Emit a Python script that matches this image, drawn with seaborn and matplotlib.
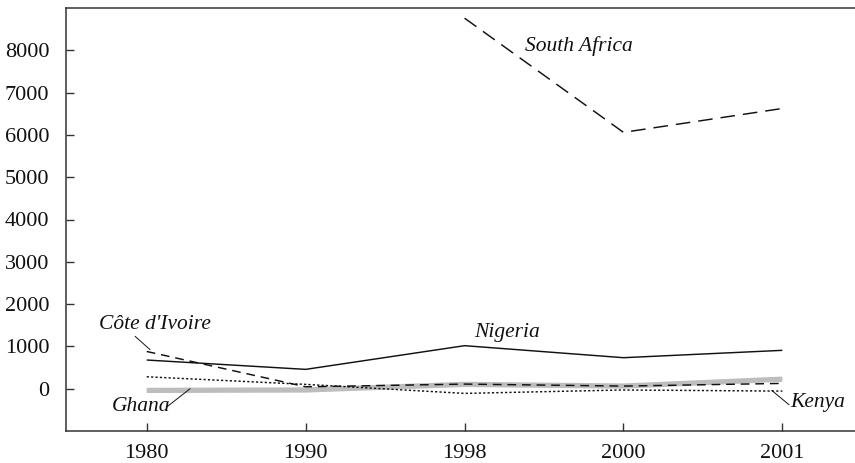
import matplotlib

matplotlib.use("Agg")

import matplotlib.pyplot as plt
import pandas as pd
import seaborn as sns

YEARS = ["1980", "1990", "1998", "2000", "2001"]
SOUTH_AFRICA = [None, None, 8760, 6060, 6625]
NIGERIA = [678, 457, 1017, 733, 907]
COTE_DIVOIRE = [880, 45, 109, 62, 125]
KENYA = [282, 102, -111, -30, -57]
GHANA = [-40, -30, 102, 62, 225]

SERIES = {
    "Ghana": GHANA,
    "South Africa": SOUTH_AFRICA,
    "Nigeria": NIGERIA,
    "Côte d'Ivoire": COTE_DIVOIRE,
    "Kenya": KENYA,
}

rows = []
for country, values in SERIES.items():
    for pos, value in enumerate(values):
        if value is not None:
            rows.append({"country": country, "pos": pos, "value": value})
df = pd.DataFrame(rows)

sns.set_theme(style="white")
plt.rcParams["font.family"] = ["Liberation Serif", "DejaVu Serif"]

fig = plt.figure(figsize=(8.55, 4.63), dpi=100)
ax = fig.add_axes([66 / 855, 1 - 431 / 463, 1 - 66 / 855, (431 - 8) / 463])

palette = {
    "Ghana": "#bdbdbd",
    "South Africa": "#111111",
    "Nigeria": "#111111",
    "Côte d'Ivoire": "#111111",
    "Kenya": "#111111",
}
dashes = {
    "Ghana": "",
    "South Africa": (10, 5.5),
    "Nigeria": "",
    "Côte d'Ivoire": (6, 4),
    "Kenya": (1.5, 1.5),
}
sizes = {
    "Ghana": 3.8,
    "South Africa": 1.05,
    "Nigeria": 1.05,
    "Côte d'Ivoire": 1.05,
    "Kenya": 1.05,
}

sns.lineplot(
    data=df,
    x="pos",
    y="value",
    hue="country",
    style="country",
    size="country",
    palette=palette,
    dashes=dashes,
    sizes=sizes,
    hue_order=list(SERIES),
    style_order=list(SERIES),
    size_order=list(SERIES),
    legend=False,
    ax=ax,
)
for line in ax.lines:
    line.set_solid_capstyle("butt")
    line.set_dash_capstyle("butt")

ax.set_xlim(-0.508, 4.457)
ax.set_ylim(-1000, 9000)
ax.set_xticks(range(len(YEARS)))
ax.set_xticklabels(YEARS)
ax.set_yticks(range(0, 9000, 1000))
ax.set_xlabel("")
ax.set_ylabel("")

for side in ("left", "bottom", "top"):
    ax.spines[side].set_visible(True)
    ax.spines[side].set_color("#333333")
    ax.spines[side].set_linewidth(1.1)
ax.spines["right"].set_visible(False)

ax.tick_params(
    axis="both",
    direction="in",
    length=6,
    width=1.0,
    color="#333333",
    labelsize=16,
    labelcolor="#111111",
    left=True,
    bottom=True,
)
ax.tick_params(axis="y", pad=12)
ax.tick_params(axis="x", pad=9)

label_style = dict(fontsize=15.5, style="italic", color="#111111", ha="center", va="center")
ax.text(2.72, 8095, "South Africa", **label_style)
ax.text(2.27, 1325, "Nigeria", **label_style)
ax.text(0.05, 1515, "Côte d'Ivoire", **label_style)
ax.text(-0.036, -426, "Ghana", **label_style)
ax.text(4.225, -331, "Kenya", **label_style)

leader = dict(arrowstyle="-", color="#111111", lw=0.7, shrinkA=0, shrinkB=0)
ax.annotate("", xy=(0.021, 923), xytext=(-0.073, 1238), arrowprops=leader)
ax.annotate("", xy=(0.273, 0), xytext=(0.128, -426), arrowprops=leader)
ax.annotate("", xy=(3.933, -40), xytext=(4.042, -379), arrowprops=leader)

fig.savefig("out.png", dpi=100)
plt.close(fig)
